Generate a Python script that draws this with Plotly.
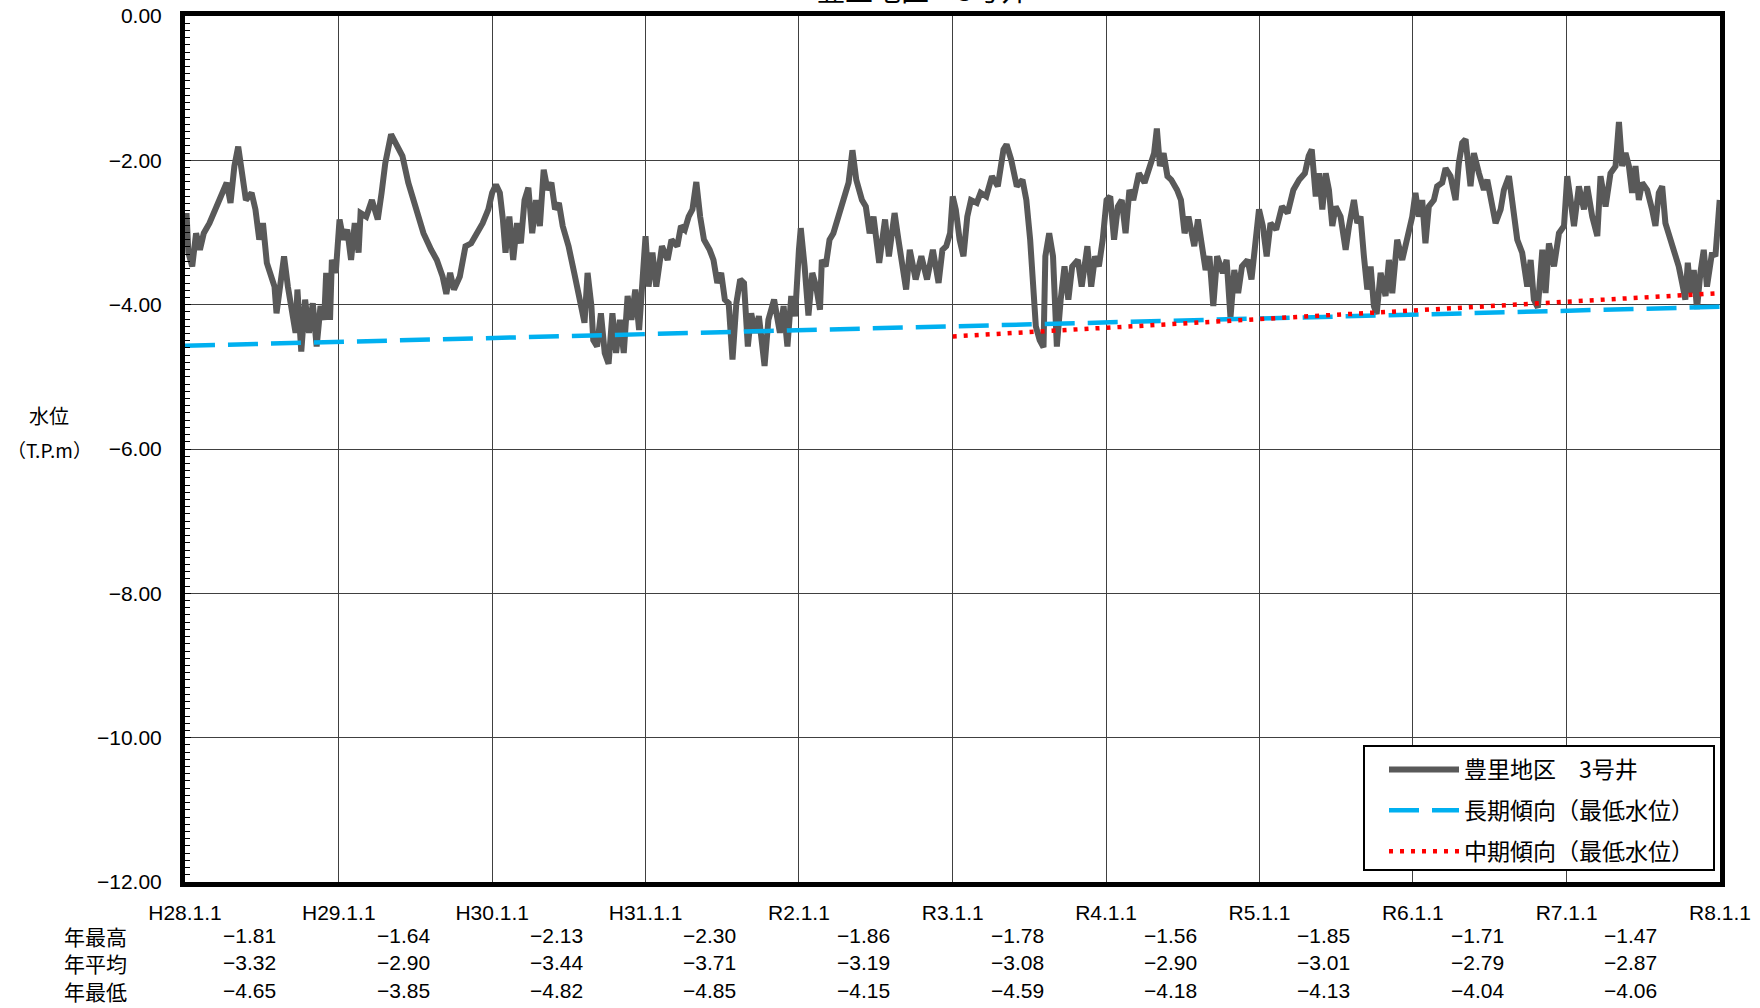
import numpy as np
import pandas as pd
import plotly.graph_objects as go

# ---------------- data ----------------
title_text = "豊里地区　3号井"
series_name = "豊里地区　3号井"
long_name = "長期傾向（最低水位）"
mid_name = "中期傾向（最低水位）"
y_label_1 = "水位"
y_label_2 = "（T.P.m）"

tick_years = [2016, 2017, 2018, 2019, 2020, 2021, 2022, 2023, 2024, 2025, 2026]
tick_labels = ["H28.1.1", "H29.1.1", "H30.1.1", "H31.1.1", "R2.1.1", "R3.1.1",
               "R4.1.1", "R5.1.1", "R6.1.1", "R7.1.1", "R8.1.1"]

stat_years = [2016, 2017, 2018, 2019, 2020, 2021, 2022, 2023, 2024, 2025]
row_labels = ["年最高", "年平均", "年最低"]
annual_max = [-1.81, -1.64, -2.13, -2.30, -1.86, -1.78, -1.56, -1.85, -1.71, -1.47]
annual_mean = [-3.32, -2.90, -3.44, -3.71, -3.19, -3.08, -2.90, -3.01, -2.79, -2.87]
annual_min = [-4.65, -3.85, -4.82, -4.85, -4.15, -4.59, -4.18, -4.13, -4.04, -4.06]

# water level (decimal year, T.P.m)
level_t = [
    2016.010, 2016.022, 2016.047, 2016.072, 2016.097, 2016.122, 2016.159, 2016.197, 2016.221, 2016.271,
    2016.296, 2016.321, 2016.346, 2016.371, 2016.396, 2016.433, 2016.458, 2016.483, 2016.507, 2016.532,
    2016.557, 2016.582, 2016.595, 2016.619, 2016.644, 2016.669, 2016.694, 2016.719, 2016.731, 2016.756,
    2016.781, 2016.806, 2016.831, 2016.856, 2016.881, 2016.905, 2016.918, 2016.943, 2016.955, 2016.980,
    2017.005, 2017.030, 2017.055, 2017.080, 2017.104, 2017.129, 2017.142, 2017.179, 2017.216, 2017.254,
    2017.279, 2017.303, 2017.341, 2017.378, 2017.415, 2017.453, 2017.502, 2017.552, 2017.602, 2017.639,
    2017.677, 2017.701, 2017.726, 2017.751, 2017.789, 2017.826, 2017.863, 2017.900, 2017.938, 2017.975,
    2018.000, 2018.025, 2018.050, 2018.070, 2018.087, 2018.112, 2018.137, 2018.162, 2018.187, 2018.211,
    2018.236, 2018.261, 2018.286, 2018.311, 2018.336, 2018.361, 2018.386, 2018.410, 2018.435, 2018.460,
    2018.498, 2018.535, 2018.560, 2018.585, 2018.602, 2018.622, 2018.647, 2018.659, 2018.684, 2018.709,
    2018.734, 2018.759, 2018.784, 2018.808, 2018.833, 2018.858, 2018.883, 2018.908, 2018.933, 2018.958,
    2018.983, 2019.000, 2019.020, 2019.045, 2019.070, 2019.107, 2019.144, 2019.169, 2019.207, 2019.231,
    2019.256, 2019.281, 2019.306, 2019.331, 2019.356, 2019.381, 2019.418, 2019.443, 2019.468, 2019.493,
    2019.517, 2019.542, 2019.567, 2019.592, 2019.617, 2019.642, 2019.667,
    2019.689, 2019.714, 2019.739, 2019.776, 2019.801, 2019.838, 2019.876, 2019.900, 2019.925, 2019.950,
    2019.975, 2020.000, 2020.012, 2020.037, 2020.062, 2020.087, 2020.112, 2020.137, 2020.149, 2020.174,
    2020.199, 2020.224, 2020.249, 2020.286, 2020.323, 2020.348, 2020.373, 2020.410, 2020.435, 2020.460,
    2020.485, 2020.522, 2020.560, 2020.585, 2020.622, 2020.647, 2020.684, 2020.697, 2020.721, 2020.759,
    2020.796, 2020.833, 2020.871, 2020.908, 2020.933, 2020.958, 2020.983, 2021.000, 2021.020, 2021.045,
    2021.070, 2021.095, 2021.119, 2021.157, 2021.182, 2021.219, 2021.256, 2021.294, 2021.331, 2021.351,
    2021.381, 2021.418, 2021.455, 2021.480, 2021.505, 2021.525, 2021.542, 2021.567, 2021.592, 2021.604,
    2021.629, 2021.654, 2021.667, 2021.679, 2021.704, 2021.729, 2021.754, 2021.779, 2021.816, 2021.841,
    2021.878, 2021.903, 2021.928, 2021.953, 2021.978, 2022.003, 2022.027, 2022.052, 2022.077, 2022.102,
    2022.127, 2022.152, 2022.177, 2022.214, 2022.251, 2022.288, 2022.313, 2022.331, 2022.351, 2022.375,
    2022.400, 2022.425, 2022.463, 2022.488, 2022.512, 2022.537, 2022.575, 2022.599, 2022.624, 2022.649,
    2022.674, 2022.699, 2022.724, 2022.761, 2022.786, 2022.811, 2022.836, 2022.861, 2022.886, 2022.923,
    2022.948, 2022.972, 2022.997, 2023.022, 2023.047, 2023.072, 2023.109, 2023.147, 2023.184, 2023.221,
    2023.259, 2023.296, 2023.321, 2023.341,
    2023.367, 2023.388, 2023.410, 2023.432, 2023.453, 2023.475, 2023.497, 2023.529, 2023.562, 2023.584,
    2023.616, 2023.638, 2023.659, 2023.681, 2023.703, 2023.725, 2023.746, 2023.764, 2023.790, 2023.822,
    2023.844, 2023.866, 2023.898, 2023.931, 2023.963, 2023.996, 2024.017, 2024.039, 2024.061, 2024.082,
    2024.104, 2024.137, 2024.158, 2024.191, 2024.213, 2024.245, 2024.278, 2024.299, 2024.321, 2024.343,
    2024.375, 2024.397, 2024.430, 2024.462, 2024.484, 2024.516, 2024.538, 2024.571, 2024.592, 2024.625,
    2024.646, 2024.679, 2024.711, 2024.744, 2024.766, 2024.787, 2024.813, 2024.842, 2024.863, 2024.885,
    2024.918, 2024.950, 2024.983, 2025.004, 2025.026, 2025.048, 2025.080, 2025.113, 2025.134, 2025.167,
    2025.200, 2025.221, 2025.254, 2025.286, 2025.319, 2025.341, 2025.362, 2025.384, 2025.406, 2025.427,
    2025.449, 2025.471, 2025.492, 2025.525, 2025.557, 2025.579, 2025.601, 2025.623, 2025.644, 2025.666,
    2025.698, 2025.731, 2025.753, 2025.774, 2025.790, 2025.807, 2025.829, 2025.850, 2025.872, 2025.894,
    2025.915, 2025.948, 2025.970, 2025.980, 2025.998,
]
level_v = [
    -2.73, -3.28, -3.47, -3.01, -3.24, -3.01, -2.87, -2.68, -2.55, -2.31,
    -2.59, -2.08, -1.81, -2.27, -2.55, -2.45, -2.68, -3.10, -2.87, -3.42,
    -3.61, -3.75, -4.12, -3.65, -3.33, -3.75, -4.12, -4.39, -3.79, -4.65,
    -3.93, -4.39, -3.98, -4.58, -4.02, -4.21, -3.56, -4.21, -3.38, -3.56,
    -2.82, -3.10, -2.96, -3.38, -2.87, -3.28, -2.73, -2.78, -2.55, -2.82,
    -2.45, -2.04, -1.64, -1.81, -1.94, -2.31, -2.68, -3.01, -3.24, -3.38,
    -3.61, -3.85, -3.56, -3.79, -3.61, -3.19, -3.15, -3.01, -2.87, -2.68,
    -2.45, -2.34, -2.45, -2.82, -3.28, -2.78, -3.38, -2.87, -3.15, -2.55,
    -2.38, -3.01, -2.55, -2.91, -2.13, -2.41, -2.31, -2.68, -2.59, -2.91,
    -3.19, -3.56, -3.79, -4.02, -4.25, -3.56, -4.02, -4.49, -4.58, -4.12,
    -4.67, -4.82, -4.12, -4.67, -4.21, -4.67, -3.88, -4.21, -3.79, -4.35,
    -3.65, -3.05, -3.75, -3.28, -3.75, -3.19, -3.38, -3.10, -3.19, -2.91,
    -2.96, -2.78, -2.68, -2.30, -2.78, -3.10, -3.24, -3.38, -3.70, -3.56,
    -3.93, -3.98, -4.76, -3.98, -3.65, -3.70, -4.58,
    -4.12, -4.39, -4.16, -4.85, -4.21, -3.93, -4.39, -4.02, -4.58, -3.88,
    -4.16, -3.24, -2.94, -3.47, -4.15, -3.56, -3.75, -4.07, -3.38, -3.47,
    -3.10, -3.01, -2.82, -2.59, -2.31, -1.86, -2.27, -2.55, -2.64, -3.01,
    -2.78, -3.42, -2.82, -3.33, -2.73, -3.10, -3.56, -3.79, -3.24, -3.65,
    -3.33, -3.65, -3.24, -3.70, -3.24, -3.19, -3.01, -2.50, -2.68, -3.10,
    -3.33, -2.78, -2.55, -2.59, -2.45, -2.50, -2.22, -2.36, -1.85, -1.78,
    -1.99, -2.36, -2.27, -2.55, -3.10, -3.70, -4.30, -4.49, -4.59, -3.33,
    -3.01, -3.33, -3.93, -4.58, -3.93, -3.47, -3.93, -3.47, -3.38, -3.75,
    -3.19, -3.75, -3.33, -3.47, -3.10, -2.55, -2.50, -3.10, -2.64, -2.55,
    -3.01, -2.41, -2.55, -2.18, -2.31, -2.08, -1.90, -1.56, -2.08, -1.90,
    -2.22, -2.27, -2.41, -2.55, -3.01, -2.78, -3.19, -2.82, -3.19, -3.52,
    -3.33, -4.02, -3.33, -3.56, -3.38, -4.18, -3.52, -3.84, -3.47, -3.38,
    -3.65, -3.10, -2.68, -2.91, -3.33, -2.87, -2.96, -2.64, -2.73, -2.41,
    -2.27, -2.18, -1.94, -1.85,
    -2.50, -2.18, -2.68, -2.18, -2.41, -2.91, -2.64, -2.78, -3.24, -2.91,
    -2.55, -2.87, -2.78, -3.33, -3.79, -3.47, -4.02, -4.13, -3.56, -3.88,
    -3.38, -3.84, -3.10, -3.38, -3.05, -2.78, -2.45, -2.78, -2.55, -3.15,
    -2.64, -2.55, -2.36, -2.31, -2.11, -2.22, -2.55, -2.04, -1.76, -1.71,
    -2.36, -1.90, -2.18, -2.41, -2.27, -2.68, -2.87, -2.68, -2.41, -2.22,
    -2.59, -3.10, -3.28, -3.75, -3.38, -3.93, -4.04, -3.24, -3.84, -3.15,
    -3.47, -3.01, -2.91, -2.22, -2.55, -2.91, -2.36, -2.68, -2.36, -2.78,
    -3.05, -2.22, -2.64, -2.18, -2.08, -1.47, -2.08, -1.90, -2.08, -2.45,
    -2.08, -2.55, -2.31, -2.41, -2.68, -2.91, -2.45, -2.36, -2.87, -3.01,
    -3.24, -3.47, -3.70, -3.93, -3.42, -3.84, -3.52, -4.06, -3.56, -3.24,
    -3.75, -3.28, -3.33, -3.01, -2.55,
]

long_t = [2016.0, 2026.0]
long_v = [-4.57, -4.03]
mid_t = [2021.0, 2026.0]
mid_v = [-4.44, -3.84]

y_range = [-12, 0]
y_step = 2


# ---------------- helpers ----------------
def to_date(t):
    y = int(np.floor(t))
    start = pd.Timestamp(y, 1, 1)
    end = pd.Timestamp(y + 1, 1, 1)
    return start + (end - start) * (t - y)


def fmt(v):
    return ("−" if v < 0 else "") + f"{abs(v):.2f}"


NUM_FONT = "Liberation Sans"
JP_FONT = "Noto Sans CJK JP"

fig = go.Figure()
fig.add_trace(go.Scatter(
    x=[to_date(t) for t in level_t], y=level_v, mode="lines", name=series_name,
    line=dict(color="#595959", width=6), legendgroup="a"))
fig.add_trace(go.Scatter(
    x=[to_date(t) for t in long_t], y=long_v, mode="lines", name=long_name,
    line=dict(color="#00B0F0", width=4.5, dash="30px,13px"), legendgroup="b"))
fig.add_trace(go.Scatter(
    x=[to_date(t) for t in mid_t], y=mid_v, mode="lines", name=mid_name,
    line=dict(color="#FF0000", width=4.5, dash="4px,7px"), legendgroup="c"))

L, R, T, B = 185, 40, 16, 126
W, H = 1760, 1008
pw, ph = W - L - R, H - T - B


def px_to_paper_x(px):
    return (px - L) / pw


def px_to_paper_y(py):
    return (H - B - py) / ph


annotations = []
# table: row labels and one column of values per year
annotations.append(dict(
    x=px_to_paper_x(95), y=px_to_paper_y(963), xref="paper", yref="paper",
    text="<br>".join(row_labels), showarrow=False, xanchor="center", yanchor="middle",
    align="center", font=dict(family=JP_FONT, size=21, color="black")))
for yr, a, m, n in zip(stat_years, annual_max, annual_mean, annual_min):
    annotations.append(dict(
        x=to_date(yr + 0.605), y=px_to_paper_y(963), xref="x", yref="paper",
        text="<br>".join([fmt(a), fmt(m), fmt(n)]), showarrow=False,
        xanchor="right", yanchor="middle", align="right",
        font=dict(family=NUM_FONT, size=21, color="black")))

# y-axis label
annotations.append(dict(
    x=px_to_paper_x(49), y=px_to_paper_y(415), xref="paper", yref="paper",
    text=y_label_1, showarrow=False, xanchor="center", yanchor="middle",
    font=dict(family=JP_FONT, size=20, color="black")))
annotations.append(dict(
    x=px_to_paper_x(49), y=px_to_paper_y(450), xref="paper", yref="paper",
    text=y_label_2, showarrow=False, xanchor="center", yanchor="middle",
    font=dict(family=JP_FONT, size=19, color="black")))

# title (mostly above the page edge, as in the original)
annotations.append(dict(
    x=px_to_paper_x(923), y=px_to_paper_y(-11), xref="paper", yref="paper",
    text=title_text, showarrow=False, xanchor="center", yanchor="middle",
    font=dict(family=JP_FONT, size=28, color="black")))

# legend frame
shapes = [dict(
    type="rect", xref="paper", yref="paper", layer="above",
    x0=px_to_paper_x(1364), x1=px_to_paper_x(1714),
    y0=px_to_paper_y(870), y1=px_to_paper_y(746),
    line=dict(color="black", width=2), fillcolor="white")]

fig.update_layout(
    width=W, height=H,
    margin=dict(l=L, r=R, t=T, b=B, autoexpand=False),
    paper_bgcolor="white", plot_bgcolor="white",
    showlegend=True,
    legend=dict(
        x=px_to_paper_x(1384), y=px_to_paper_y(748), xanchor="left", yanchor="top",
        bgcolor="rgba(0,0,0,0)", borderwidth=0,
        font=dict(family=JP_FONT, size=23, color="black"),
        tracegroupgap=8, itemwidth=70,
    ),
    annotations=annotations,
    shapes=shapes,
)

fig.update_xaxes(
    type="date", automargin=False,
    range=[to_date(tick_years[0]), to_date(tick_years[-1])],
    tickvals=[to_date(y) for y in tick_years], ticktext=tick_labels,
    tickfont=dict(family=NUM_FONT, size=21, color="black"),
    ticks="", ticklabelstandoff=8,
    showgrid=True, gridcolor="#404040", gridwidth=1,
    showline=True, linecolor="black", linewidth=5, mirror=True,
    zeroline=False,
)
fig.update_yaxes(
    automargin=False,
    range=y_range, dtick=y_step, tick0=0, tickformat=".2f",
    tickfont=dict(family=NUM_FONT, size=21, color="black"),
    ticks="inside", ticklen=6, tickcolor="black", ticklabelstandoff=14,
    minor=dict(ticks="inside", ticklen=5, tickcolor="black", dtick=0.1, showgrid=False),
    showgrid=True, gridcolor="#404040", gridwidth=1,
    showline=True, linecolor="black", linewidth=5, mirror=True,
    zeroline=False,
)

fig.write_html(
    "out.html",
    config={"displayModeBar": False},
    post_script="document.body.style.margin='0';document.body.style.overflow='hidden';",
)
